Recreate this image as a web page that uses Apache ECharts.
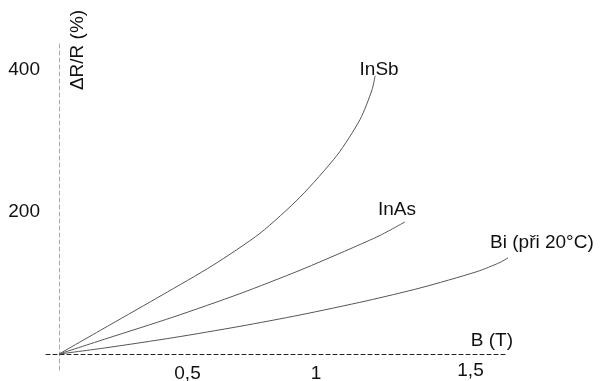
<!DOCTYPE html>
<html><head><meta charset="utf-8">
<script src="https://cdn.jsdelivr.net/npm/echarts@6/dist/echarts.min.js"></script>
<style>html,body{margin:0;padding:0;background:#fff}#c{width:604px;height:381px}</style>
</head><body><div id="c"></div>
<script>
// B (T) values and ΔR/R (%) values
const inSbB  = [0, 0.198, 0.401, 0.599, 0.782, 0.938, 1.082, 1.171, 1.218, 1.230];
const inSbR  = [0, 41, 83, 125, 170, 221, 280, 330, 372, 392];
const inAsB  = [0, 0.187, 0.444, 0.704, 0.938, 1.132, 1.249, 1.346];
const inAsR  = [0, 22, 52, 85, 118, 148, 167, 186];
const biB    = [0, 0.187, 0.444, 0.704, 0.938, 1.198, 1.405, 1.626, 1.716, 1.759];
const biR    = [0, 9, 23, 39, 55, 75, 93, 116, 129, 138];
const seriesNames = ['InSb', 'InAs', 'Bi (při 20°C)'];
const xTickValues = [0.5, 1, 1.5];
const xTickLabels = ['0,5', '1', '1,5'];
const yTickValues = [200, 400];
const yTickLabels = ['200', '400'];
const xAxisName = 'B (T)';
const yAxisName = 'ΔR/R (%)';

const zip = (a, b) => a.map((v, i) => [v, b[i]]);
const FONT = 'Liberation Sans, Arial, sans-serif';
const chart = echarts.init(document.getElementById('c'), null, {renderer: 'canvas'});
const lineStyle = {color: '#555', width: 1};
const mk = (name, data) => ({
  name, type: 'line', data, smooth: 0.25, showSymbol: false, symbol: 'none',
  clip: false, lineStyle, silent: true
});
chart.setOption({
  animation: false,
  grid: {left: 46, top: 43, width: 461, height: 327, containLabel: false, outerBoundsMode: 'none'},
  xAxis: {
    type: 'value', min: -0.0506, max: 1.7432,
    axisLine: {onZero: true, lineStyle: {color: '#222', width: 1, type: [4, 3]}},
    axisTick: {show: false}, splitLine: {show: false},
    axisLabel: {
      customValues: xTickValues, margin: -6, color: '#111', fontSize: 19, fontFamily: FONT,
      formatter: v => {
        const i = xTickValues.indexOf(v);
        const t = i >= 0 ? xTickLabels[i] : '';
        return v === 1.5 ? '{s|' + t + '}' : t;
      },
      rich: {s: {fontSize: 19, fontFamily: FONT, color: '#111', padding: [0, 0, 0, 52], lineHeight: 13}}
    },
    name: xAxisName, nameLocation: 'end', nameGap: 6,
    nameTextStyle: {color: '#111', fontSize: 19, fontFamily: FONT, align: 'right', verticalAlign: 'bottom', padding: [0, 0, 4, 0]}
  },
  yAxis: {
    type: 'value', min: -22.5, max: 438,
    axisLine: {onZero: true, lineStyle: {color: '#aaa', width: 1, type: [4, 3]}},
    axisTick: {show: false}, splitLine: {show: false},
    axisLabel: {
      customValues: yTickValues, margin: 6, color: '#111', fontSize: 19, fontFamily: FONT,
      formatter: v => { const i = yTickValues.indexOf(v); return i >= 0 ? yTickLabels[i] : ''; }
    }
  },
  series: [mk(seriesNames[0], zip(inSbB, inSbR)), mk(seriesNames[1], zip(inAsB, inAsR)), mk(seriesNames[2], zip(biB, biR))]
});

// labels placed relative to each curve's last point
const ends = [[inSbB, inSbR], [inAsB, inAsR], [biB, biR]];
const offs = [[4, -6, 'center'], [-8, -12, 'center'], [-21, -13, 'left']];
const g = ends.map(([b, r], i) => {
  const p = chart.convertToPixel({gridIndex: 0}, [b[b.length - 1], r[r.length - 1]]);
  return {type: 'text', x: p[0] + offs[i][0], y: p[1] + offs[i][1],
    style: {text: seriesNames[i], fill: '#111', font: '19px ' + FONT, align: offs[i][2], verticalAlign: 'middle'}};
});
g.push({type: 'text', x: 78, y: 50, rotation: Math.PI / 2,
  style: {text: yAxisName, fill: '#111', font: '19px ' + FONT, align: 'center', verticalAlign: 'middle'}});
chart.setOption({graphic: g});
</script></body></html>
